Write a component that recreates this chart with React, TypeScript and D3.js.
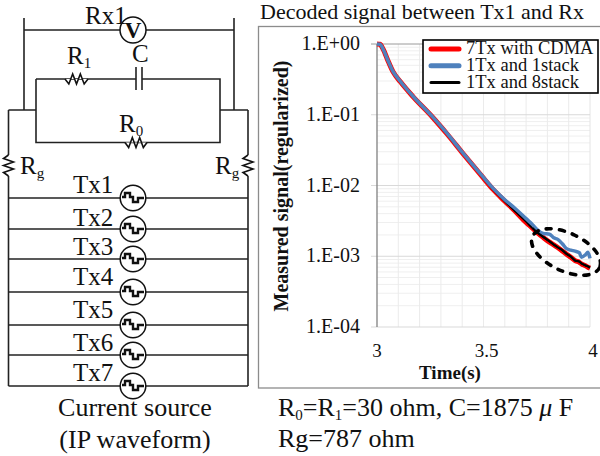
import React from "react";
import * as d3 from "d3";

// decay curves, regularized signal vs time
const times = [3, 3.014, 3.03, 3.05, 3.075, 3.11, 3.17, 3.26, 3.33, 3.4, 3.5, 3.545, 3.6, 3.65, 3.7, 3.73, 3.75, 3.78, 3.81, 3.83, 3.85, 3.87, 3.89, 3.91, 3.93, 3.95, 3.96, 3.98, 3.99, 4];
const cdma = [1, 0.99, 0.83, 0.596, 0.407, 0.292, 0.179, 0.093, 0.053, 0.0292, 0.0127, 0.0088, 0.006, 0.0043, 0.003, 0.0025, 0.0022, 0.00185, 0.00158, 0.00145, 0.00132, 0.00119, 0.00107, 0.00097, 0.00087, 0.00082, 0.00078, 0.00073, 0.0007, 0.00068];
const oneStack = [1, 0.99, 0.83, 0.6, 0.41, 0.295, 0.181, 0.094, 0.054, 0.0296, 0.013, 0.0091, 0.0063, 0.0047, 0.0034, 0.0028, 0.0024, 0.0021, 0.00205, 0.00182, 0.00172, 0.0015, 0.00128, 0.00122, 0.00118, 0.00112, 0.00097, 0.00106, 0.00114, 0.00093];
const eightStack = [1, 0.99, 0.83, 0.598, 0.408, 0.293, 0.18, 0.093, 0.053, 0.0292, 0.0127, 0.0088, 0.006, 0.0043, 0.0031, 0.0025, 0.0022, 0.00188, 0.00162, 0.00146, 0.00133, 0.00122, 0.00108, 0.00099, 0.00087, 0.00084, 0.00079, 0.00074, 0.00072, 0.00069];

const seriesNames = ["7Tx with CDMA", "1Tx and 1stack", "1Tx and 8stack"];
const yTicks = [1, 0.1, 0.01, 0.001, 0.0001];
const yLabels = ["1.E+00", "1.E-01", "1.E-02", "1.E-03", "1.E-04"];
const xTicks = [3, 3.5, 4];
const txNames = ["Tx1", "Tx2", "Tx3", "Tx4", "Tx5", "Tx6", "Tx7"];
const txRows = [198, 229, 259, 292, 325, 355, 386];
const txLabelRows = [193, 226, 255, 285, 318, 351, 381];

const serif = "'Liberation Serif', serif";

const x = d3.scaleLinear().domain([3, 4]).range([377, 590]);
const y = d3.scaleLog().domain([1, 0.0001]).range([44, 327]);

const line = d3
  .line<number>()
  .x((d, i) => x(times[i]))
  .y(d => y(d))
  .curve(d3.curveMonotoneX);

// last stretch of black, it sits over the blue there
const tail = d3
  .line<number>()
  .defined((d, i) => times[i] > 3.72)
  .x((d, i) => x(times[i]))
  .y(d => y(d));

const minorY: number[] = [];
yTicks.slice(1).forEach(t => {
  d3.range(2, 10).forEach(m => minorY.push(t * m));
});
const minorX = d3.range(1, 10).map(i => 3 + i / 10);

// zigzag resistor between two points, n teeth
const zigzag = (x0: number, y0: number, x1: number, y1: number, n: number, amp: number) => {
  const pts: [number, number][] = [[x0, y0]];
  const dx = (x1 - x0) / (n * 2);
  const dy = (y1 - y0) / (n * 2);
  const len = Math.hypot(x1 - x0, y1 - y0);
  const nx = -(y1 - y0) / len;
  const ny = (x1 - x0) / len;
  for (let i = 1; i < n * 2; i += 1) {
    const s = i % 2 ? amp : -amp;
    pts.push([x0 + dx * i + nx * s, y0 + dy * i + ny * s]);
  }
  pts.push([x1, y1]);
  return d3.line()(pts) || "";
};

const Wire = ({ d }: { d: string }) => <path d={d} fill="none" stroke="#222" strokeWidth={1.6} />;

const Source = ({ cy }: { cy: number }) => (
  <g transform={`translate(133 ${cy})`}>
    <circle r={12.8} fill="#fff" stroke="#111" strokeWidth={1.5} />
    <path d="M-11 -1H-8V-5H-3V-1H0V4H5V0H11" fill="none" stroke="#111" strokeWidth={2.4} />
  </g>
);

const Circuit = () => (
  <g fontFamily={serif} fontSize={25} fill="#111">
    <Wire d="M24 18V110M234 18V110M24 30H234" />
    <Wire d="M8.5 110H36M220 110H248M36 79V142.5H220V79H142M136 79H36" />
    <Wire d="M8.5 110V155M8.5 176V386M248 110V155M248 176V386" />
    <path d={zigzag(65, 79, 88, 79, 3, 5)} fill="#fff" stroke="#111" strokeWidth={1.6} />
    <path d={zigzag(125, 142.5, 147, 142.5, 3, 5)} fill="#fff" stroke="#111" strokeWidth={1.6} />
    <path d={zigzag(8.5, 155, 8.5, 176, 3, 5)} fill="none" stroke="#111" strokeWidth={1.6} />
    <path d={zigzag(248, 155, 248, 176, 3, 5)} fill="none" stroke="#111" strokeWidth={1.6} />
    <rect x={137} y={70} width={5} height={20} fill="#fff" />
    <Wire d="M136 67V90M142 67V90" />
    {txRows.map(r => (
      <Wire key={r} d={`M8.5 ${r}H248`} />
    ))}
    <circle cx={133} cy={30} r={13} fill="#fff" stroke="#111" strokeWidth={1.5} />
    <text x={133} y={38} textAnchor="middle" fontWeight="bold" fontSize={23}>V</text>
    {txRows.map(r => (
      <Source key={r} cy={r} />
    ))}

    <text x={85} y={24}>Rx1</text>
    <text x={67} y={64}>R<tspan fontSize={15} dy={4}>1</tspan></text>
    <text x={132} y={62}>C</text>
    <text x={119} y={132}>R<tspan fontSize={15} dy={4}>0</tspan></text>
    <text x={20} y={174}>R<tspan fontSize={15} dy={4}>g</tspan></text>
    <text x={215} y={174}>R<tspan fontSize={15} dy={4}>g</tspan></text>
    {txNames.map((n, i) => (
      <text key={n} x={73} y={txLabelRows[i]}>{n}</text>
    ))}
    <text x={135} y={416} textAnchor="middle" fontSize={26}>Current source</text>
    <text x={135} y={448} textAnchor="middle" fontSize={26}>(IP waveform)</text>
  </g>
);

const Chart = () => (
  <g fontFamily={serif} fill="#111">
    <text x={260} y={19} fontSize={22}>Decoded signal between Tx1 and Rx</text>
    {/* frame runs off the right edge of the picture */}
    <rect x={258.5} y={26.5} width={360} height={361.5} fill="#fff" stroke="#8c8c8c" strokeWidth={1.3} />

    {minorY.map(v => (
      <line key={v} x1={x(3)} x2={x(4)} y1={y(v)} y2={y(v)} stroke="#efefef" />
    ))}
    {minorX.map(v => (
      <line key={v} x1={x(v)} x2={x(v)} y1={y(1)} y2={y(0.0001)} stroke="#ebebeb" />
    ))}
    <line x1={x(4)} x2={x(4)} y1={y(1)} y2={y(0.0001)} stroke="#e4e4e4" />
    {yTicks.map(v => (
      <line key={v} x1={371} x2={x(4)} y1={y(v)} y2={y(v)} stroke={v === 1 ? "#9a9a9a" : "#d9d9d9"} />
    ))}
    <line x1={x(3)} x2={x(3)} y1={y(1)} y2={y(0.0001)} stroke="#808080" strokeWidth={1.3} />

    {yTicks.map((v, i) => (
      <text key={v} x={360} y={y(v) + 6} textAnchor="end" fontSize={20}>{yLabels[i]}</text>
    ))}
    {xTicks.map(v => (
      <text key={v} x={x(v) + (v === 3 ? 0 : 3)} y={357} textAnchor="middle" fontSize={19}>{v}</text>
    ))}
    <text x={450} y={379} textAnchor="middle" fontSize={19} fontWeight="bold">Time(s)</text>
    <text transform="translate(288 186) rotate(-90)" textAnchor="middle" fontSize={20} fontWeight="bold">
      Measured signal(regularized)
    </text>

    <path d={line(cdma) || ""} fill="none" stroke="#ff0000" strokeWidth={5} />
    <path d={line(eightStack) || ""} fill="none" stroke="#000" strokeWidth={2} />
    <path d={line(oneStack) || ""} fill="none" stroke="#4f81bd" strokeWidth={3.5} />
    <path d={tail(eightStack) || ""} fill="none" stroke="#000" strokeWidth={2} />

    <rect x={423} y={40} width={175} height={53} fill="#fff" stroke="#000" strokeWidth={1.6} />
    {seriesNames.map((n, i) => (
      <g key={n}>
        <line
          x1={431}
          x2={459}
          y1={49 + i * 16.8}
          y2={49 + i * 16.8}
          stroke={["#ff0000", "#4f81bd", "#000"][i]}
          strokeWidth={i === 2 ? 3 : 5}
          strokeLinecap="round"
        />
        <text x={466} y={54 + i * 17.2} fontSize={18.5}>{n}</text>
      </g>
    ))}

    <ellipse
      cx={566}
      cy={252}
      rx={37}
      ry={19}
      transform="rotate(25 566 252)"
      fill="none"
      stroke="#000"
      strokeWidth={3.6}
      strokeDasharray="5 8.3"
      strokeLinecap="round"
    />

    <g fontSize={26}>
      <text x={278} y={416}>
        R<tspan fontSize={15} dy={4}>0</tspan><tspan dy={-4}>=R</tspan><tspan fontSize={15} dy={4}>1</tspan><tspan dy={-4}>=30 ohm, C=1875</tspan>
        <tspan fontStyle="italic"> μ </tspan>F
      </text>
      <text x={278} y={447}>Rg=787 ohm</text>
    </g>
  </g>
);

export default function App() {
  return (
    <svg width={600} height={456} style={{ position: "absolute", left: 0, top: 0, background: "#fff" }}>
      <Circuit />
      <Chart />
    </svg>
  );
}
